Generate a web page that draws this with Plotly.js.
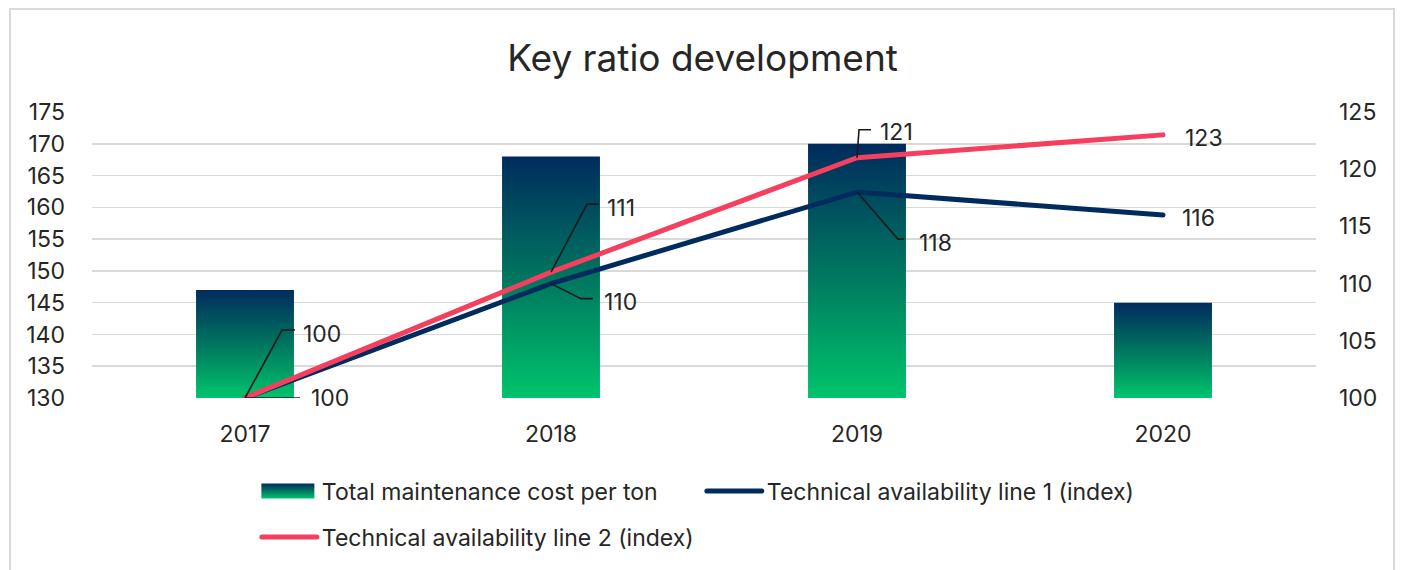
<!DOCTYPE html>
<html>
<head>
<meta charset="utf-8">
<script src="https://cdn.plot.ly/plotly-3.0.1.min.js"></script>
<style>
  html, body { margin: 0; padding: 0; background: #ffffff; }
  #frame { position: absolute; left: 9px; top: 8px; width: 1386px; height: 600px; border: 2px solid #d9d9d9; box-sizing: border-box; }
  #chart { position: absolute; left: 0; top: 0; width: 1405px; height: 570px; }
  #chart .scatterlayer .js-line, #chart .legendlines path { stroke-linecap: round; stroke-linejoin: round; }
</style>
</head>
<body>
<div id="frame"></div>
<div id="chart"></div>
<script>
// ---- data ----
const years = ["2017", "2018", "2019", "2020"];
const maintenanceCost = [147, 168, 170, 145];
const availabilityLine1 = [100, 110, 118, 116];
const availabilityLine2 = [100, 111, 121, 123];
const seriesNames = ["Total maintenance cost per ton", "Technical availability line 1 (index)", "Technical availability line 2 (index)"];
const leftTicks = [130, 135, 140, 145, 150, 155, 160, 165, 170, 175];
const rightTicks = [100, 105, 110, 115, 120, 125];

// label placement (pixel offsets from each point; leader paths in pixels, y up)
const line1Labels = [
  {dx: 85, dy: 0, leader: "M0,0 L55,0"},
  {dx: 69, dy: -18, leader: "M0,0 L30,-15 L42,-15"},
  {dx: 78, dy: -51, leader: "M0,0 L41,-47 L47,-47"},
  {dx: 35, dy: -3, leader: null}
];
const line2Labels = [
  {dx: 77, dy: 64, leader: "M0,0 L37,68 L50,68"},
  {dx: 70, dy: 64, leader: "M0,0 L36,68 L48,68"},
  {dx: 39, dy: 26, leader: "M0,0 L2,28 L14,28"},
  {dx: 41, dy: -3, leader: null}
];

const NAVY = "#002b5e";
const GREEN = "#00c46c";
const RED = "#f43f5e";
const BAR_PLACEHOLDER = "rgb(1, 150, 100)";
const FONT = "Inter, 'Open Sans', sans-serif";
const TXT = "#262626";
const FS = 23;

const traces = [
  {
    type: "bar", x: years, y: maintenanceCost, name: seriesNames[0],
    marker: {color: BAR_PLACEHOLDER, line: {width: 0}}, width: 0.32,
    yaxis: "y", hoverinfo: "skip", legend: "legend"
  },
  {
    type: "scatter", mode: "lines", x: years, y: availabilityLine1, name: seriesNames[1],
    line: {color: NAVY, width: 5}, yaxis: "y2", legend: "legend"
  },
  {
    type: "scatter", mode: "lines", x: years, y: availabilityLine2, name: seriesNames[2],
    line: {color: RED, width: 5}, yaxis: "y2", legend: "legend2"
  }
];

const annotations = [];
const shapes = [];
function addLabels(values, specs) {
  values.forEach((v, i) => {
    const s = specs[i];
    annotations.push({
      x: i, y: v, xref: "x", yref: "y2", text: String(v), showarrow: false,
      xshift: s.dx, yshift: s.dy, font: {family: FONT, size: FS, color: TXT},
      xanchor: "center", yanchor: "middle"
    });
    if (s.leader) {
      shapes.push({
        type: "path", xref: "x", yref: "y2", xsizemode: "pixel", ysizemode: "pixel",
        xanchor: i, yanchor: v, path: s.leader,
        line: {color: "#1a1a1a", width: 1.6}, layer: "above"
      });
    }
  });
}
addLabels(availabilityLine1, line1Labels);
addLabels(availabilityLine2, line2Labels);

const layout = {
  width: 1405, height: 570,
  margin: {l: 92, r: 89, t: 112, b: 172, pad: 0},
  paper_bgcolor: "rgba(0,0,0,0)", plot_bgcolor: "rgba(0,0,0,0)",
  font: {family: FONT, size: FS, color: TXT},
  title: {
    text: "Key ratio development", x: 0.5, xanchor: "center",
    y: 1 - 58 / 570, yanchor: "middle", yref: "container",
    font: {family: FONT, size: 37, color: TXT}
  },
  xaxis: {
    type: "category", categoryorder: "array", categoryarray: years,
    range: [-0.5, years.length - 0.5], autorange: false,
    showgrid: false, zeroline: false, showline: false,
    ticks: "", ticklabelstandoff: 20, tickfont: {size: FS, color: TXT}
  },
  yaxis: {
    range: [130, 175], autorange: false, tickvals: leftTicks, showgrid: true, gridcolor: "#d9d9d9", gridwidth: 1.5,
    zeroline: false, showline: false, ticks: "", ticklabelstandoff: 26,
    tickfont: {size: FS, color: TXT}
  },
  yaxis2: {
    range: [100, 125], autorange: false, tickvals: rightTicks, overlaying: "y", side: "right",
    showgrid: false, zeroline: false, showline: false, ticks: "", ticklabelstandoff: 22,
    tickfont: {size: FS, color: TXT}
  },
  showlegend: true,
  legend: {
    orientation: "h", x: 0.1347, xanchor: "left", y: -0.325, yanchor: "middle",
    font: {family: FONT, size: FS, color: TXT}, entrywidth: 375, itemwidth: 55,
    bgcolor: "rgba(0,0,0,0)", traceorder: "normal"
  },
  legend2: {
    orientation: "h", x: 0.1347, xanchor: "left", y: -0.486, yanchor: "middle",
    font: {family: FONT, size: FS, color: TXT}, itemwidth: 55,
    bgcolor: "rgba(0,0,0,0)"
  },
  annotations: annotations,
  shapes: shapes
};

const gd = document.getElementById("chart");
const gradStops = [[0, NAVY], [0.5, "#00755f"], [1, GREEN]];

function makeGradient(defs, id, attrs) {
  const ns = "http://www.w3.org/2000/svg";
  let lg = defs.querySelector("#" + id);
  if (lg) lg.remove();
  lg = document.createElementNS(ns, "linearGradient");
  lg.setAttribute("id", id);
  Object.keys(attrs).forEach(k => lg.setAttribute(k, attrs[k]));
  gradStops.forEach(([o, c]) => {
    const st = document.createElementNS(ns, "stop");
    st.setAttribute("offset", String(o));
    st.setAttribute("stop-color", c);
    lg.appendChild(st);
  });
  defs.appendChild(lg);
}

function applyGradient() {
  const svg = gd.querySelector("svg.main-svg");
  if (!svg) return;
  const ns = "http://www.w3.org/2000/svg";
  let defs = svg.querySelector("defs");
  if (!defs) { defs = document.createElementNS(ns, "defs"); svg.insertBefore(defs, svg.firstChild); }
  const plotH = gd._fullLayout.yaxis._length;
  let k = 0;
  gd.querySelectorAll("path").forEach(p => {
    const f = p.style.fill;
    const isBar = f === BAR_PLACEHOLDER || (p.dataset.barGrad === "1");
    if (!isBar) return;
    p.dataset.barGrad = "1";
    if (p.closest("g.legendpoints")) {
      p.setAttribute("d", "M-28,-7.5H25V7.5H-28Z");
      makeGradient(defs, "barGradLegend", {gradientUnits: "userSpaceOnUse", x1: "0", y1: "-7.5", x2: "0", y2: "7.5"});
      p.style.fill = "url(#barGradLegend)";
    } else {
      const bb = p.getBBox();
      const top = bb.y;
      const bottom = Math.min(bb.y + bb.height, plotH);
      const id = "barGrad" + (k++);
      makeGradient(defs, id, {gradientUnits: "userSpaceOnUse", x1: "0", y1: String(top), x2: "0", y2: String(bottom)});
      p.style.fill = "url(#" + id + ")";
    }
  });
}

Plotly.newPlot(gd, traces, layout, {displayModeBar: false, staticPlot: true}).then(() => {
  applyGradient();
  gd.on("plotly_afterplot", applyGradient);
});
</script>
</body>
</html>
